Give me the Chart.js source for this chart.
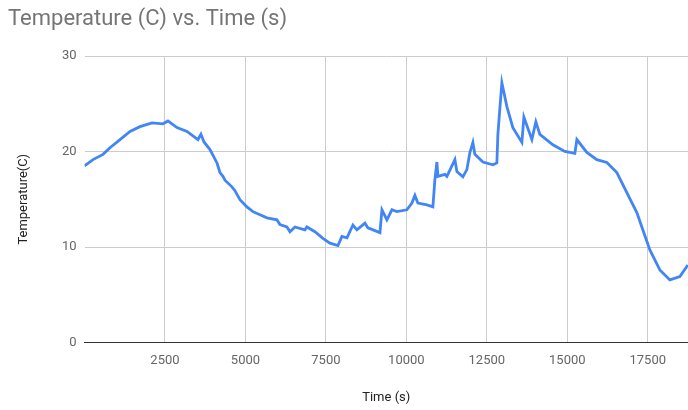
<!DOCTYPE html>
<html>
<head>
<meta charset="utf-8">
<script src="https://cdn.jsdelivr.net/npm/chart.js@4/dist/chart.umd.min.js"></script>
<style>
  html, body { margin: 0; padding: 0; background: #fff; }
  #wrap { width: 688px; height: 410px; }
</style>
</head>
<body>
<div id="wrap"><canvas id="chart"></canvas></div>
<script>
// values
const timeSec = [0, 264, 575, 792, 1104, 1414, 1724, 2097, 2438, 2593, 2873, 3184, 3525, 3618, 3712,
  3898, 4116, 4209, 4302, 4364, 4581, 4674, 4830, 5047, 5234, 5668, 5979, 6072, 6290, 6383, 6539,
  6849, 6911, 7159, 7408,
  7625, 7874, 7998, 8154, 8340, 8464, 8713, 8806, 9179, 9241, 9396, 9551, 9706, 10017,
  10172, 10265, 10358, 10638, 10824, 10886, 10949, 10980, 11197, 11259, 11508, 11570, 11756,
  11880, 11974, 12067, 12129, 12378, 12688, 12812, 12843, 12967, 13123, 13309, 13589, 13651,
  13899, 14023, 14148, 14552, 14924, 15235, 15297, 15607, 15918, 16229, 16540, 16850, 17161,
  17316, 17565, 17876, 18186, 18497, 18745];
const tempC = [18.5, 19.15, 19.7, 20.4, 21.25, 22.1, 22.6, 23.0, 22.9, 23.2, 22.5, 22.1, 21.25, 21.8, 21.0,
  20.2, 18.8, 17.8, 17.4, 17.0, 16.3, 15.9, 14.95, 14.2, 13.7, 13.05, 12.85, 12.35, 12.1, 11.6, 12.1,
  11.8, 12.1, 11.6, 10.9,
  10.4, 10.15, 11.1, 10.95, 12.3, 11.8, 12.5, 12.0, 11.5, 13.9, 12.85, 13.9, 13.7, 13.9,
  14.6, 15.4, 14.6, 14.4, 14.2, 17.05, 18.9, 17.4, 17.6, 17.4, 19.15, 17.9, 17.35,
  18.1, 19.9, 20.95, 19.7, 18.9, 18.6, 18.8, 21.8, 27.2, 24.7, 22.5, 20.95, 23.6,
  21.25, 23.1, 21.8, 20.7, 20.0, 19.8, 21.25, 19.9, 19.15, 18.85, 17.8, 15.7, 13.6,
  12.1, 9.7, 7.6, 6.55, 6.9, 8.1];
const xTicks = [2500, 5000, 7500, 10000, 12500, 15000, 17500];
const yTicks = [0, 10, 20, 30];

const points = timeSec.map((t, i) => ({ x: t, y: tempC[i] }));

new Chart(document.getElementById('chart'), {
  type: 'line',
  data: {
    datasets: [{
      label: 'Temperature',
      data: points,
      borderColor: '#4285f4',
      borderWidth: 2.8,
      pointRadius: 0,
      tension: 0,
      fill: false
    }]
  },
  options: {
    responsive: true,
    maintainAspectRatio: false,
    animation: false,
    layout: { padding: { left: 8, right: 0, top: 0, bottom: 0 } },
    plugins: {
      legend: { display: false },
      tooltip: { enabled: false },
      title: {
        display: true,
        text: 'Temperature (C) vs. Time (s)',
        align: 'start',
        color: '#757575',
        font: { family: 'Roboto', size: 22, weight: 'normal' },
        padding: { top: 6, bottom: 23.6 }
      }
    },
    scales: {
      x: {
        type: 'linear',
        min: 0,
        max: 18750,
        afterBuildTicks: axis => { axis.ticks = xTicks.map(v => ({ value: v })); },
        afterFit: axis => { axis.height = 67.5; },
        border: { display: true, color: '#333', width: 1 },
        grid: { color: '#cccccc', drawTicks: false },
        ticks: {
          color: '#666',
          font: { family: 'Roboto', size: 13 },
          padding: 10,
          maxRotation: 0,
          callback: v => String(v)
        },
        title: {
          display: true,
          text: 'Time (s)',
          color: '#222',
          font: { family: 'Roboto', size: 13 },
          padding: { top: 4, bottom: 4 }
        }
      },
      y: {
        min: 0,
        max: 30,
        afterBuildTicks: axis => { axis.ticks = yTicks.map(v => ({ value: v })); },
        afterFit: axis => { axis.width = 76.5; },
        border: { display: false },
        grid: {
          color: ctx => ctx.tick && ctx.tick.value === 0 ? '#333' : '#cccccc',
          drawTicks: false
        },
        ticks: {
          color: '#666',
          font: { family: 'Roboto', size: 13 },
          padding: 8,
          callback: v => String(v)
        },
        title: {
          display: true,
          text: 'Temperature(C)',
          color: '#222',
          font: { family: 'Roboto', size: 13 },
          padding: { top: 8, bottom: 4 }
        }
      }
    }
  }
});
</script>
</body>
</html>
